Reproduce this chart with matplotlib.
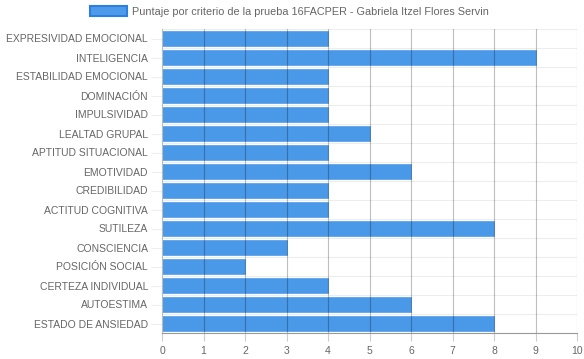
import matplotlib
matplotlib.use('Agg')
import matplotlib.pyplot as plt

categorias = ['EXPRESIVIDAD EMOCIONAL', 'INTELIGENCIA', 'ESTABILIDAD EMOCIONAL', 'DOMINACIÓN',
              'IMPULSIVIDAD', 'LEALTAD GRUPAL', 'APTITUD SITUACIONAL', 'EMOTIVIDAD',
              'CREDIBILIDAD', 'ACTITUD COGNITIVA', 'SUTILEZA', 'CONSCIENCIA',
              'POSICIÓN SOCIAL', 'CERTEZA INDIVIDUAL', 'AUTOESTIMA', 'ESTADO DE ANSIEDAD']
puntajes = [4, 9, 4, 4, 4, 5, 4, 6, 4, 4, 8, 3, 2, 4, 6, 8]
serie = 'Puntaje por criterio de la prueba 16FACPER - Gabriela Itzel Flores Servin'

plt.rcParams['font.family'] = ['Liberation Sans', 'DejaVu Sans']
gris = '#666666'

fig = plt.figure(figsize=(5.84, 3.59), dpi=100)
ax = fig.add_axes([162/584, 1-333/359, (577-162)/584, (333-29)/359])

y = list(range(len(categorias)))
ax.barh(y, puntajes, height=0.76, color='#4a98e8', edgecolor='#5ea3ec', linewidth=0.6,
        zorder=2)
ax.set_ylim(len(categorias)-0.5, -0.5)
ax.set_xlim(0, 10)
ax.set_xticks(range(11))
ax.set_yticks(y)
ax.set_yticklabels(categorias)

# lineas de cuadricula
for x in range(1, 11):
    ax.axvline(x, color='black', alpha=0.25, lw=0.8, zorder=3)
for yy in range(len(categorias)+1):
    ax.axhline(yy-0.5, color='black', alpha=0.07, lw=0.8, zorder=1)

ax.tick_params(axis='both', labelsize=7.5, colors=gris, length=8, width=0.8)
ax.tick_params(axis='y', color='#eeeeee', pad=2)
ax.tick_params(axis='x', color='#cccccc', length=6, pad=3)
for s in ['top', 'right']:
    ax.spines[s].set_visible(False)
ax.spines['left'].set_color('#bbbbbb')
ax.spines['bottom'].set_color('#999999')
ax.spines['left'].set_zorder(4)
ax.spines['bottom'].set_zorder(4)

# leyenda
caja = plt.Rectangle((0, 0), 1, 1, facecolor='#4e9aea', edgecolor='#2a7fe0', linewidth=1.5)
fig.legend([caja], [serie], loc='upper center', bbox_to_anchor=(0.496, 1.01), frameon=False,
           fontsize=7.8, labelcolor=gris, handlelength=3.4, handleheight=1.0, handletextpad=0.45)

fig.savefig('out.png', dpi=100)
